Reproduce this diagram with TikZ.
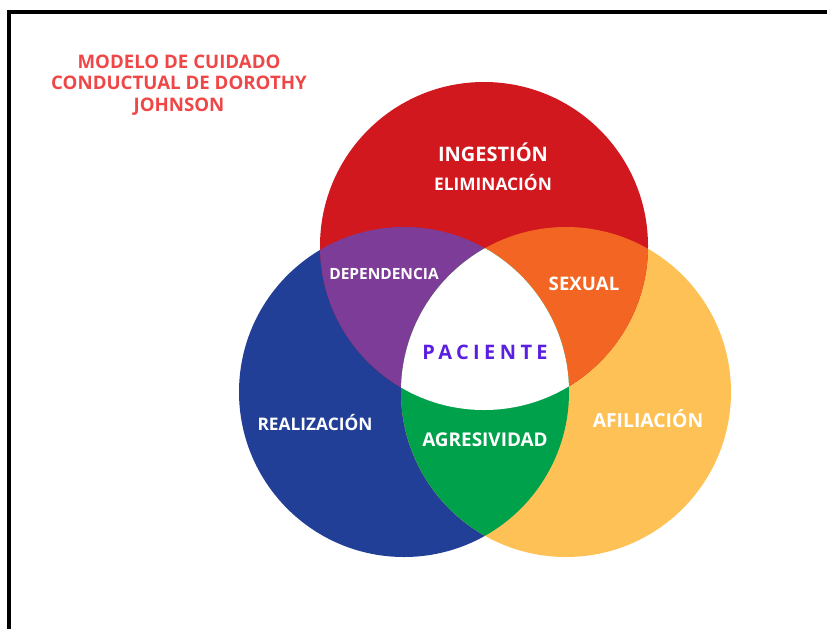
\documentclass[tikz,border=0pt]{standalone}
\usepackage{fontspec}
\setmainfont{Open Sans}
\definecolor{venred}{HTML}{D0181E}
\definecolor{venblue}{HTML}{213F96}
\definecolor{venyellow}{HTML}{FEC155}
\definecolor{venpurple}{HTML}{7D3C98}
\definecolor{venorange}{HTML}{F26522}
\definecolor{vengreen}{HTML}{00A14B}
\definecolor{pacviolet}{HTML}{5A1FE0}
\definecolor{titlered}{HTML}{EF4747}

\begin{document}
\begin{tikzpicture}[x=0.75pt,y=-0.75pt,
    lbl/.style={text=white,font=\bfseries\fontsize{13}{15}\selectfont},
    ttl/.style={text=titlered,align=center,font=\bfseries\fontsize{14}{16}\selectfont}]
    \useasboundingbox (0,0) rectangle (827,628);
    \draw[line width=2.8pt] (9,640) -- (9,12) -- (840,12);
    % centres of the three circles
    \coordinate (red) at (484,246);
    \coordinate (blue) at (404,392);
    \coordinate (yellow) at (566,392);
    \fill[venblue] (blue) circle (165);
    \fill[venyellow] (yellow) circle (165);
    \fill[venred] (red) circle (164);
    \begin{scope}
      \clip (red) circle (164);
      \fill[venpurple] (blue) circle (165);
      \fill[venorange] (yellow) circle (165);
    \end{scope}
    \begin{scope}
      \clip (blue) circle (165);
      \fill[vengreen] (yellow) circle (165);
    \end{scope}
    \begin{scope}
      \clip (red) circle (164);
      \clip (blue) circle (165);
      \fill[white] (yellow) circle (165);
    \end{scope}
    % labels
    \node[ttl] (title) at (179,85) {MODELO DE CUIDADO\\CONDUCTUAL DE DOROTHY\\JOHNSON};
    \node[lbl,font=\bfseries\fontsize{15}{17}\selectfont] (ing) at (493,152) {INGESTIÓN};
    \node[lbl] (elim) at (493,183) {ELIMINACIÓN};
    \node[lbl,font=\bfseries\fontsize{11.6}{14}\selectfont] (dep) at (384,274) {DEPENDENCIA};
    \node[lbl,font=\bfseries\fontsize{14}{16}\selectfont] (sex) at (584,284) {SEXUAL};
    \node[text=pacviolet,font=\bfseries\fontsize{15}{17}\selectfont\addfontfeatures{LetterSpace=22}] (pac) at (485,352) {PACIENTE};
    \node[lbl] (real) at (315,423) {REALIZACIÓN};
    \node[lbl,font=\bfseries\fontsize{14.2}{16}\selectfont] (agr) at (485,440) {AGRESIVIDAD};
    \node[lbl,font=\bfseries\fontsize{14.5}{16}\selectfont] (afil) at (648,419) {AFILIACIÓN};
\end{tikzpicture}
\end{document}
